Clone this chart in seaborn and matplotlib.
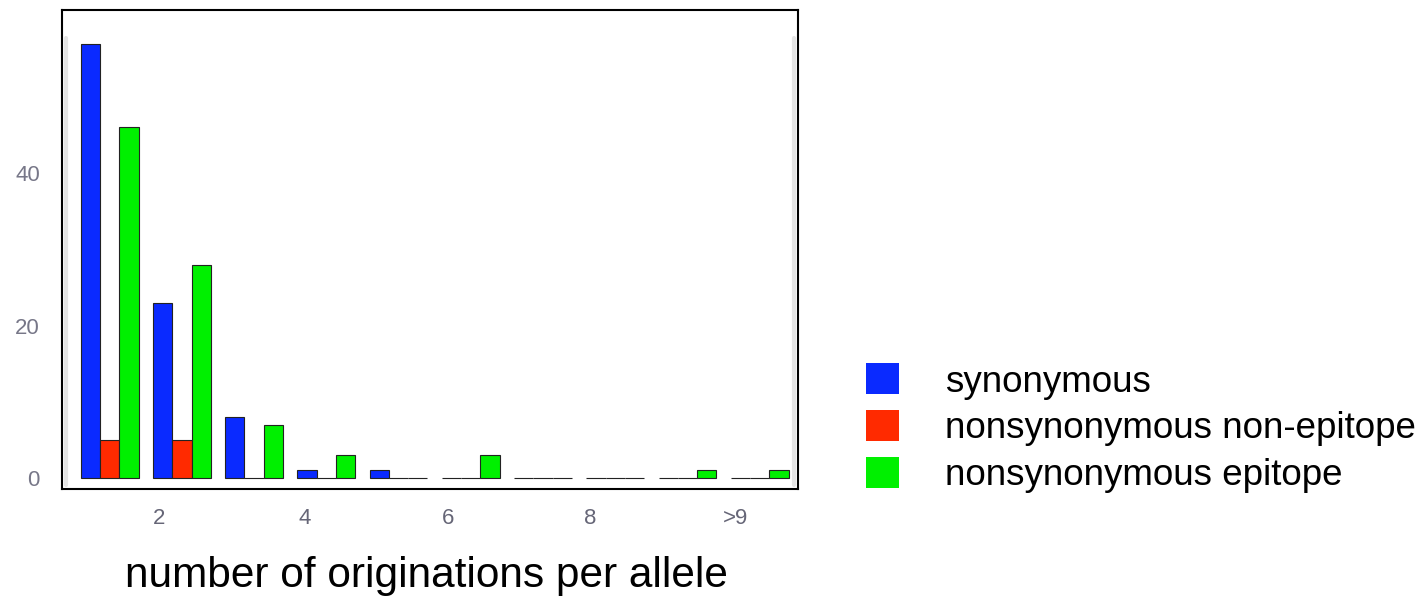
import matplotlib
matplotlib.use("Agg")
import matplotlib.pyplot as plt
import pandas as pd
import seaborn as sns
from matplotlib.patches import Patch

# counts per number of originations (1..9, >9)
originations = ["1", "2", "3", "4", "5", "6", "7", "8", "9", ">9"]
synonymous = [57, 23, 8, 1, 1, 0, 0, 0, 0, 0]
nonsyn_non_epitope = [5, 5, 0, 0, 0, 0, 0, 0, 0, 0]
nonsyn_epitope = [46, 28, 7, 3, 0, 3, 0, 0, 1, 1]

series_names = ["synonymous", "nonsynonymous non-epitope", "nonsynonymous epitope"]
colors = ["#0a2aff", "#ff2a00", "#00f000"]

tick_labels = ["2", "4", "6", "8", ">9"]
y_ticks = [0, 20, 40]

rows = []
for name, vals in zip(series_names, [synonymous, nonsyn_non_epitope, nonsyn_epitope]):
    for o, v in zip(originations, vals):
        rows.append({"originations": o, "count": v, "type": name})
df = pd.DataFrame(rows)

sns.set_style("white")
plt.rcParams['font.family'] = ['Liberation Sans', 'DejaVu Sans']
plt.rcParams['text.color'] = 'black'

fig = plt.figure(figsize=(14.24, 5.97), dpi=100)
ax = fig.add_axes([62 / 1424, 1 - 489 / 597, 736 / 1424, 479 / 597])

sns.barplot(data=df, x="originations", y="count", hue="type", order=originations,
            hue_order=series_names, palette=colors, saturation=1, width=0.8, ax=ax,
            edgecolor="#222222", linewidth=0.8, legend=False)

ax.set_xlim(-0.66, 9.53)
ax.set_ylim(-1.44, 61.4)

# faint inner frame of the original pasted plot
ax.plot([-0.6, -0.6], [-0.9, 57.7], color="#e4e4e4", lw=3, zorder=0)
ax.plot([9.48, 9.48], [-0.9, 57.7], color="#e4e4e4", lw=3, zorder=0)

# the original axis labels sit slightly left of the group centres
ax.set_xticks([0.69, 2.70, 4.68, 6.65, 8.66])
ax.set_xticklabels(tick_labels, fontsize=16, color="#666677")
ax.set_yticks(y_ticks)
ax.set_yticklabels([str(t) for t in y_ticks], fontsize=16, color="#777788")
ax.tick_params(axis="both", length=0, pad=14)
ax.tick_params(axis="y", pad=16)
ax.set_xlabel("")
ax.set_ylabel("")
for s in ax.spines.values():
    s.set_visible(True)
    s.set_color("black")
    s.set_linewidth(1.5)

fig.text(426 / 1424, 1 - 576 / 597, "number of originations per allele",
         fontsize=30.5, ha="center", va="center", color="black")

# legend built from colored squares
handles = [Patch(facecolor=c, edgecolor="none") for c in colors]
fig.legend(handles, series_names, loc="upper left",
           bbox_to_anchor=(848 / 1424, 1 - 345 / 597), frameon=False,
           fontsize=26.5, handlelength=0.88, handleheight=0.92,
           handletextpad=1.25, labelspacing=0.29, borderpad=0,
           labelcolor="black")

fig.savefig("out.png", dpi=100)
